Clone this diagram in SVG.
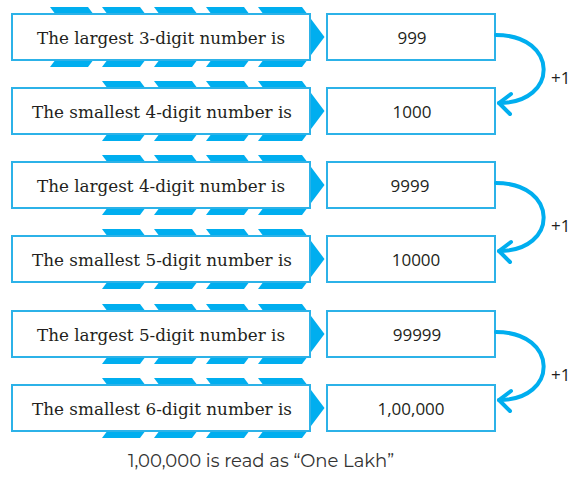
<svg xmlns="http://www.w3.org/2000/svg" width="583" height="478" viewBox="0 0 583 478">
<style>
.chev{fill:#00aeef}
.box{fill:#fff;stroke:#2cb2e8;stroke-width:2}
.lt{font-family:"DejaVu Serif","Liberation Serif",serif;font-size:17px;fill:#231f20;text-anchor:middle}
.rt{font-family:"Open Sans","Noto Sans",sans-serif;font-size:17px;fill:#231f20;text-anchor:middle}
.lbl{font-family:"Open Sans","Noto Sans",sans-serif;font-size:17px;fill:#231f20}
.cap{font-family:"Montserrat","Open Sans","Noto Sans",sans-serif;font-size:18px;fill:#333;text-anchor:middle}
.arc{fill:none;stroke:#00aeef;stroke-width:4;stroke-linecap:round;stroke-linejoin:round}
</style>
<defs>
<g id="band4">
<polygon class="chev" points="102,-30 140,-30 162.5,0 140,30 102,30 124.5,0"/>
<polygon class="chev" points="154,-30 192,-30 214.5,0 192,30 154,30 176.5,0"/>
<polygon class="chev" points="206,-30 244,-30 266.5,0 244,30 206,30 228.5,0"/>
<polygon class="chev" points="258,-30 302,-30 324.5,0 302,30 258,30 280.5,0"/>
</g>
<polygon id="chev1" class="chev" points="50,-30 88,-30 110.5,0 88,30 50,30 72.5,0"/>
</defs>

<g id="n1">
<use href="#chev1" transform="translate(0,37)"/>
<use href="#band4" transform="translate(0,37)"/>
<rect class="box" x="12" y="14" width="298" height="46"/>
<text class="lt" x="161" y="44" textLength="248" lengthAdjust="spacingAndGlyphs">The largest 3-digit number is</text>
</g>
<g id="n2">
<use href="#band4" transform="translate(0,111)"/>
<rect class="box" x="12" y="88" width="298" height="46"/>
<text class="lt" x="162" y="118" textLength="260" lengthAdjust="spacingAndGlyphs">The smallest 4-digit number is</text>
</g>
<g id="n3">
<use href="#band4" transform="translate(0,185)"/>
<rect class="box" x="12" y="162" width="298" height="46"/>
<text class="lt" x="161" y="192" textLength="248" lengthAdjust="spacingAndGlyphs">The largest 4-digit number is</text>
</g>
<g id="n4">
<use href="#band4" transform="translate(0,259)"/>
<rect class="box" x="12" y="236" width="298" height="46"/>
<text class="lt" x="162" y="266" textLength="260" lengthAdjust="spacingAndGlyphs">The smallest 5-digit number is</text>
</g>
<g id="n5">
<use href="#band4" transform="translate(0,334)"/>
<rect class="box" x="12" y="311" width="298" height="46"/>
<text class="lt" x="161" y="341" textLength="248" lengthAdjust="spacingAndGlyphs">The largest 5-digit number is</text>
</g>
<g id="n6">
<use href="#band4" transform="translate(0,408)"/>
<rect class="box" x="12" y="385" width="298" height="46"/>
<text class="lt" x="162" y="415" textLength="260" lengthAdjust="spacingAndGlyphs">The smallest 6-digit number is</text>
</g>

<g id="v1"><rect class="box" x="327" y="14" width="168" height="46"/><text class="rt" x="412" y="44">999</text></g>
<g id="v2"><rect class="box" x="327" y="88" width="168" height="46"/><text class="rt" x="412" y="118">1000</text></g>
<g id="v3"><rect class="box" x="327" y="162" width="168" height="46"/><text class="rt" x="410" y="192">9999</text></g>
<g id="v4"><rect class="box" x="327" y="236" width="168" height="46"/><text class="rt" x="416" y="266">10000</text></g>
<g id="v5"><rect class="box" x="327" y="311" width="168" height="46"/><text class="rt" x="417" y="341">99999</text></g>
<g id="v6"><rect class="box" x="327" y="385" width="168" height="46"/><text class="rt" x="411" y="415">1,00,000</text></g>

<g id="connectors">
<path class="arc" d="M496,35 C559,35 559,103 499,103"/>
<polyline class="arc" points="511,94 499,103 510,114"/>
<text class="lbl" x="551" y="84">+1</text>
<path class="arc" d="M496,183 C559,183 559,251 499,251"/>
<polyline class="arc" points="511,242 499,251 510,262"/>
<text class="lbl" x="551" y="232">+1</text>
<path class="arc" d="M496,332 C559,332 559,400 499,400"/>
<polyline class="arc" points="511,391 499,400 510,411"/>
<text class="lbl" x="551" y="381">+1</text>
</g>

<text class="cap" x="261" y="467">1,00,000 is read as “One Lakh”</text>
</svg>
